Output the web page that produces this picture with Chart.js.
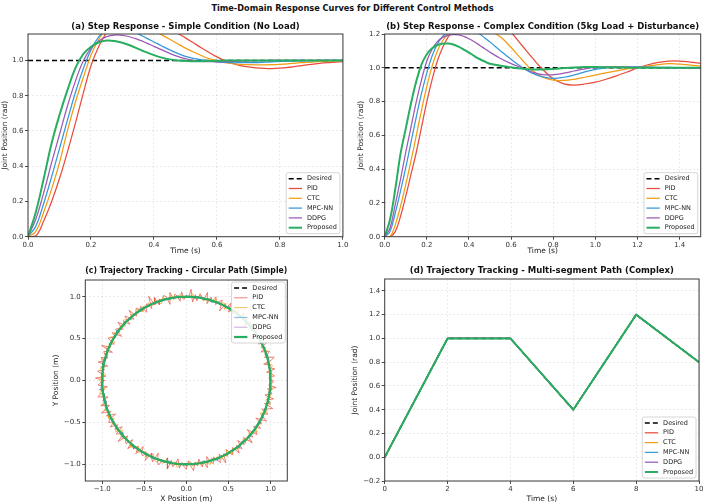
<!DOCTYPE html>
<html><head><meta charset="utf-8">
<script src="https://cdn.jsdelivr.net/npm/chart.js@4.4.0/dist/chart.umd.min.js"></script>
<style>
html,body{margin:0;padding:0;background:#fff;}
#wrap{position:relative;width:705px;height:504px;overflow:hidden;background:#fff;}
#mainTitle{position:absolute;left:0;top:1px;width:705px;text-align:center;font:bold 8.2px "DejaVu Sans";color:#111;line-height:14px;}
.cv{position:absolute;}
canvas{display:block;}
</style></head><body>
<div id="wrap">
<div id="mainTitle">Time-Domain Response Curves for Different Control Methods</div>
<div class="cv" style="left:0;top:18px;"><canvas id="cA" width="350" height="240"></canvas></div>
<div class="cv" style="left:350px;top:18px;"><canvas id="cB" width="355" height="240"></canvas></div>
<div class="cv" style="left:0;top:258px;"><canvas id="cC" width="350" height="246"></canvas></div>
<div class="cv" style="left:350px;top:258px;"><canvas id="cD" width="355" height="246"></canvas></div>
</div>
<script>
// ---------------- DATA ----------------
const methodLabels = ['Desired', 'PID', 'CTC', 'MPC-NN', 'DDPG', 'Proposed'];

// (a) step response, simple condition
const timeA = [0,0.025,0.05,0.075,0.1,0.125,0.15,0.175,0.2,0.225,0.25,0.275,0.3,0.325,0.35,0.375,0.4,0.425,0.45,0.475,0.5,0.525,0.55,0.575,0.6,0.625,0.65,0.675,0.7,0.725,0.75,0.775,0.8,0.825,0.85,0.875,0.9,0.925,0.95,0.975,1.0];
const desiredTimeA = [0, 1.0];
const desiredA = [1.0, 1.0];
const pidA = [0,0.005,0.09,0.2,0.33,0.48,0.64,0.81,0.97,1.08,1.16,1.22,1.255,1.27,1.27,1.255,1.235,1.21,1.183,1.155,1.128,1.1,1.072,1.045,1.02,0.999,0.983,0.971,0.963,0.958,0.955,0.954,0.956,0.96,0.966,0.972,0.978,0.983,0.987,0.99,0.993];
const ctcA = [0,0.03,0.14,0.27,0.42,0.6,0.76,0.9,1.03,1.12,1.18,1.215,1.23,1.23,1.215,1.195,1.17,1.145,1.12,1.095,1.07,1.048,1.028,1.01,0.997,0.988,0.982,0.978,0.976,0.975,0.975,0.976,0.978,0.981,0.985,0.988,0.991,0.994,0.996,0.998,0.999];
const mpcA = [0,0.06,0.19,0.34,0.5,0.66,0.815,0.95,1.06,1.135,1.175,1.19,1.185,1.17,1.15,1.128,1.105,1.082,1.06,1.04,1.023,1.012,1.004,0.997,0.992,0.989,0.987,0.987,0.987,0.988,0.99,0.992,0.994,0.996,0.997,0.998,0.999,1.0,1.0,1.0,1.0];
const ddpgA = [0,0.1,0.25,0.42,0.58,0.74,0.88,0.995,1.07,1.11,1.135,1.144,1.142,1.133,1.118,1.1,1.08,1.06,1.04,1.023,1.01,1.0,0.995,0.993,0.992,0.993,0.994,0.996,0.997,0.998,0.999,1.0,1.0,1.0,1.0,1.0,1.0,1.0,1.0,1.0,1.0];
const proposedA = [0,0.14,0.33,0.53,0.69,0.83,0.955,1.035,1.078,1.103,1.113,1.11,1.1,1.085,1.066,1.047,1.03,1.016,1.006,1.0,0.997,0.996,0.996,0.997,0.998,0.999,1.0,1.0,1.0,1.0,1.0,1.0,1.0,1.0,1.0,1.0,1.0,1.0,1.0,1.0,1.0];
const xTicksA = [0.0, 0.2, 0.4, 0.6, 0.8, 1.0];
const yTicksA = [0.0, 0.2, 0.4, 0.6, 0.8, 1.0];

// (b) step response, complex condition
const timeB = [0,0.025,0.05,0.075,0.1,0.125,0.15,0.175,0.2,0.225,0.25,0.275,0.3,0.325,0.35,0.375,0.4,0.425,0.45,0.475,0.5,0.55,0.6,0.65,0.7,0.75,0.8,0.85,0.9,0.95,1.0,1.05,1.1,1.15,1.2,1.25,1.3,1.35,1.4,1.45,1.5];
const desiredTimeB = [0, 1.5];
const desiredB = [1.0, 1.0];
const pidB = [0,0,0.03,0.12,0.24,0.37,0.5,0.65,0.8,0.93,1.04,1.12,1.18,1.22,1.25,1.27,1.285,1.295,1.298,1.295,1.285,1.255,1.208,1.135,1.06,0.99,0.935,0.905,0.898,0.904,0.915,0.932,0.952,0.975,0.999,1.018,1.032,1.04,1.04,1.034,1.026];
const ctcB = [0,0,0.07,0.18,0.31,0.45,0.6,0.75,0.89,1.01,1.1,1.16,1.2,1.225,1.24,1.25,1.253,1.25,1.243,1.232,1.218,1.182,1.12,1.05,0.985,0.945,0.927,0.925,0.932,0.944,0.957,0.97,0.982,0.993,1.002,1.011,1.019,1.024,1.022,1.016,1.01];
const mpcB = [0,0.03,0.14,0.27,0.41,0.56,0.71,0.85,0.97,1.07,1.14,1.185,1.212,1.227,1.232,1.23,1.224,1.213,1.2,1.177,1.152,1.1,1.05,1.005,0.968,0.946,0.938,0.944,0.958,0.976,0.991,1.0,1.004,1.005,1.005,1.004,1.003,1.002,1.001,1.0,1.0];
const ddpgB = [0,0.05,0.19,0.34,0.5,0.65,0.8,0.93,1.04,1.11,1.155,1.18,1.192,1.196,1.195,1.186,1.172,1.154,1.134,1.113,1.092,1.055,1.025,1.0,0.975,0.959,0.959,0.968,0.981,0.994,1.002,1.005,1.005,1.004,1.003,1.002,1.001,1.0,1.0,1.0,1.0];
const proposedB = [0,0.1,0.28,0.49,0.64,0.79,0.92,1.02,1.08,1.115,1.135,1.143,1.144,1.138,1.125,1.108,1.09,1.07,1.052,1.037,1.024,1.012,1.003,0.995,0.99,0.99,0.993,0.998,1.002,1.004,1.004,1.003,1.002,1.001,1.0,1.0,1.0,1.0,1.0,1.0,1.0];
const xTicksB = [0.0, 0.2, 0.4, 0.6, 0.8, 1.0, 1.2, 1.4];
const yTicksB = [0.0, 0.2, 0.4, 0.6, 0.8, 1.0, 1.2];

// (c) circular path: radius 1 m; radial deviation (m) of each method at evenly spaced angles
const desiredRadius = 1.0;
const pidDr = [
 0.03,-0.02,0.05,0.01,-0.04,0.06,-0.01,0.02,-0.06,0.04,0.08,-0.03,0.01,0.05,-0.05,0.02,-0.02,0.07,-0.04,0.03,
 -0.01,0.04,-0.07,0.02,0.06,-0.03,0.09,-0.02,0.03,-0.05,0.01,0.04,-0.01,0.06,-0.06,0.02,0.05,-0.03,0.01,-0.04,
 0.07,-0.02,0.03,-0.08,0.05,0.02,-0.03,0.06,-0.01,0.04,-0.05,0.08,-0.02,0.01,0.05,-0.04,0.03,-0.06,0.09,-0.01,
 0.02,-0.03,0.06,-0.05,0.01,0.04,-0.02,0.07,-0.07,0.03,0.05,-0.01,0.02,-0.04,0.06,-0.02,0.10,-0.05,0.03,0.01,
 -0.06,0.04,-0.02,0.05,0.02,-0.03,0.08,-0.04,0.01,0.06,-0.05,0.03,-0.01,0.07,-0.03,0.02,0.04,-0.07,0.05,-0.02,
 0.03,0.06,-0.04,0.01,-0.02,0.09,-0.06,0.04,0.02,-0.03,0.05,-0.01,0.07,-0.05,0.03,-0.02,0.06,0.01,-0.04,0.08,
 -0.03,0.02,0.05,-0.06,0.04,-0.01,0.03,0.07,-0.05,0.02,-0.02,0.06,-0.04,0.01,0.08,-0.03,0.04,-0.07,0.02,0.05,
 -0.01,0.06,-0.03,0.03,-0.06,0.05,0.01,-0.02,0.09,-0.04,0.02,0.04,-0.05,0.07,-0.01,0.03,-0.03,0.06,-0.06,0.02,
 0.04,-0.02,0.07,-0.04,0.01,0.05,-0.07,0.03,0.06,-0.01,0.02,-0.05,0.08,-0.03,0.04,0.01,-0.06,0.05,-0.02,0.03,
 0.06,-0.04,0.02,0.08,-0.02,0.03,-0.05,0.05,-0.01,0.07,-0.06,0.02,0.04,-0.03,0.01,0.06,-0.04,0.09,-0.02,0.03,
 -0.05,0.04,0.01,-0.03,0.07,-0.02,0.05,-0.06,0.03,0.02,-0.04,0.08,-0.01,0.04,-0.07,0.06,0.02,-0.03,0.05,-0.01,
 0.03,-0.06,0.07,0.01,-0.02,0.05,-0.04,0.02,0.08,-0.03,0.04,-0.01,0.06,-0.05,0.03,0.01,-0.03,0.07,-0.02,0.02];
const ctcDr = [
 0.02,-0.01,0.03,-0.02,0.01,0.04,-0.03,0.01,0.02,-0.02,0.03,0.0,-0.03,0.02,0.04,-0.01,0.01,-0.04,0.03,0.01,
 -0.02,0.03,-0.01,0.02,0.04,-0.03,0.01,0.0,0.03,-0.02,0.02,-0.04,0.03,0.01,-0.01,0.04,-0.02,0.02,0.0,-0.03,
 0.03,0.01,-0.02,0.04,-0.01,0.02,-0.03,0.03,0.01,-0.02,0.04,-0.01,0.0,0.03,-0.04,0.02,0.01,-0.02,0.03,-0.01,
 0.02,-0.03,0.04,0.0,-0.01,0.03,-0.02,0.01,0.04,-0.03,0.02,0.01,-0.02,0.03,-0.01,0.04,-0.04,0.02,0.0,0.03,
 -0.01,0.02,-0.03,0.04,0.01,-0.02,0.03,0.0,-0.04,0.02,0.03,-0.01,0.01,-0.03,0.04,0.02,-0.02,0.01,0.03,-0.01,
 0.04,-0.02,0.01,0.03,-0.03,0.02,0.0,-0.01,0.04,-0.04,0.02,0.03,-0.02,0.01,-0.01,0.03,0.02,-0.03,0.04,0.0,
 -0.02,0.03,0.01,-0.04,0.02,0.04,-0.01,0.03,-0.03,0.01,0.02,-0.02,0.04,0.0,-0.01,0.03,-0.04,0.02,0.01,-0.02,
 0.03,-0.01,0.02,0.04,-0.03,0.01,-0.02,0.03,0.0,0.02,-0.04,0.04,-0.01,0.01,0.03,-0.02,0.02,-0.03,0.04,0.01,
 -0.03,0.02,0.04,-0.01,0.0,0.03,-0.02,0.01,-0.04,0.03,0.02,-0.01,0.04,-0.03,0.01,0.02,-0.02,0.03,0.0,-0.01];
const mpcDr = [
 0.01,-0.01,0.02,0.0,-0.02,0.01,0.015,-0.01,0.005,-0.015,0.02,-0.005,0.01,-0.02,0.0,0.015,-0.01,0.01,0.005,-0.015,
 0.02,-0.01,0.0,0.015,-0.02,0.01,-0.005,0.02,-0.015,0.005,0.01,-0.01,0.02,0.0,-0.015,0.01,0.005,-0.02,0.015,-0.005,
 0.0,0.02,-0.01,0.01,-0.02,0.015,0.005,-0.01,0.02,-0.015,0.0,0.01,-0.005,0.015,-0.02,0.01,0.02,-0.01,0.0,0.005,
 -0.015,0.01,0.02,-0.005,0.0,-0.02,0.015,0.01,-0.01,0.02,-0.015,0.005,0.01,-0.02,0.015,0.0,-0.005,0.02,-0.01,0.01,
 0.005,-0.015,0.02,0.0,-0.01,0.015,-0.02,0.01,0.005,-0.005,0.02,-0.015,0.01,0.0,-0.02,0.015,-0.01,0.02,0.005,-0.01,
 0.015,-0.005,0.0,0.02,-0.02,0.01,-0.01,0.015,0.005,-0.015,0.02,0.0,-0.01,0.01,-0.005,0.02,-0.02,0.005,0.015,-0.01];
const ddpgDr = [
 -0.01,0.005,0.01,-0.005,0.0,0.012,-0.012,0.005,0.008,-0.008,0.0,0.01,-0.005,0.012,-0.01,0.003,0.007,-0.012,0.01,-0.003,
 0.005,-0.01,0.012,0.0,-0.007,0.01,-0.005,0.003,0.012,-0.012,0.008,-0.002,0.005,-0.01,0.01,0.0,-0.008,0.012,-0.005,0.003,
 0.01,-0.012,0.005,0.008,-0.003,0.0,0.012,-0.01,0.002,0.007,-0.008,0.01,-0.005,0.0,0.012,-0.012,0.005,0.003,-0.007,0.01,
 -0.005,0.012,-0.01,0.003,0.008,-0.012,0.005,0.0,0.01,-0.007,0.012,-0.003,0.005,-0.01,0.008,0.002,-0.012,0.01,-0.005,0.007,
 0.0,-0.008,0.012,-0.005,0.01,0.003,-0.012,0.007,-0.002,0.01,-0.01,0.005,0.012,-0.008,0.0,0.006,-0.01,0.012,-0.004,0.002,
 0.008,-0.012,0.005,0.01,-0.006,0.0,0.012,-0.01,0.004,0.007,-0.012,0.01,-0.003,0.005,-0.008,0.012,0.0,-0.01,0.006,-0.002];
const circleTicks = [-1.0, -0.5, 0.0, 0.5, 1.0];

// (d) multi-segment path
const timeD = [0, 2, 4, 6, 8, 10];
const desiredD = [0.0, 1.0, 1.0, 0.4, 1.2, 0.8];
const pidD = [0.0, 1.0, 1.0, 0.4, 1.2, 0.8];
const ctcD = [0.0, 1.0, 1.0, 0.4, 1.2, 0.8];
const mpcD = [0.0, 1.0, 1.0, 0.4, 1.2, 0.8];
const ddpgD = [0.0, 1.0, 1.0, 0.4, 1.2, 0.8];
const proposedD = [0.0, 1.0, 1.0, 0.4, 1.2, 0.8];
const xTicksD = [0, 2, 4, 6, 8, 10];
const yTicksD = [-0.2, 0.0, 0.2, 0.4, 0.6, 0.8, 1.0, 1.2, 1.4];

// ---------------- STYLE ----------------
const FONT = 'DejaVu Sans';
const COL = { Desired:'#000000', PID:'#e74c3c', CTC:'#f39c12', 'MPC-NN':'#3498db', DDPG:'#9b59b6', Proposed:'#27ae60' };

function pts(xs, ys){ return xs.map((x,i)=>({x:x, y:ys[i]})); }
function ring(base, drs, n){
  const out = [];
  const m = drs ? drs.length : n;
  for (let i = 0; i <= m; i++){
    const k = i % m;
    const a = 2*Math.PI*k/m;
    const r = base + (drs ? drs[k] : 0);
    out.push({x: r*Math.cos(a), y: r*Math.sin(a)});
  }
  return out;
}
function fmt1(v){ return v.toFixed(1).replace('-', '\u2212'); }
function fmt0(v){ return String(Math.round(v)).replace('-', '\u2212'); }

function stepDatasets(series, smooth){
  return series.map((s, i) => {
    const lab = methodLabels[i];
    const isDes = lab === 'Desired', isProp = lab === 'Proposed';
    return {
      label: lab, data: s, borderColor: COL[lab],
      borderWidth: isDes ? 1.6 : (isProp ? 2.0 : 1.25),
      borderDash: isDes ? [5,3] : [],
      pointRadius: 0, fill: false,
      tension: (smooth && !isDes) ? 0.4 : 0,
      order: 5 - i
    };
  });
}

function scale(o){
  return {
    type: 'linear', min: o.min, max: o.max,
    afterBuildTicks: s => { s.ticks = o.ticks.map(v => ({value: v})); },
    afterFit: s => { if (s.isHorizontal()) s.height = o.size; else s.width = o.size; },
    grid: { color: 'rgba(0,0,0,0.10)', lineWidth: 0.8, drawTicks: true, tickLength: 3, tickColor: '#333', tickWidth: 0.9 },
    border: { display: false, dash: [2,2] },
    ticks: { font: {family: FONT, size: 7, lineHeight: 1}, color: '#333', padding: 1.5, maxRotation: 0, autoSkip: false, callback: o.fmt },
    title: { display: true, text: o.title, font: {family: FONT, size: 7.5, lineHeight: 1.2}, color: '#222', padding: o.titlePad }
  };
}

const framePlugin = {
  id: 'mplFrame',
  afterDatasetsDraw(chart, args, opts){
    const ctx = chart.ctx, a = chart.chartArea;
    ctx.save();
    ctx.strokeStyle = '#3a3a3a'; ctx.lineWidth = 1;
    ctx.strokeRect(a.left, a.top, a.right - a.left, a.bottom - a.top);
    if (opts && opts.corner){
      ctx.font = '6.5px "' + FONT + '"';
      const ds = chart.data.datasets;
      const tw = Math.max(...ds.map(d => ctx.measureText(d.label).width));
      const hx = 2.5, hl = 13.3, gap = 5, pr = 3, rowH = 9.8;
      const w = hx + hl + gap + tw + pr;
      const h = 12 + (ds.length - 1) * rowH;
      const x0 = a.right - opts.inset - w;
      const y0 = opts.corner === 'lr' ? a.bottom - opts.inset - h : a.top + opts.inset;
      ctx.beginPath();
      if (ctx.roundRect) ctx.roundRect(x0, y0, w, h, 2); else ctx.rect(x0, y0, w, h);
      ctx.fillStyle = 'rgba(255,255,255,0.85)'; ctx.fill();
      ctx.strokeStyle = '#cccccc'; ctx.lineWidth = 0.8; ctx.stroke();
      ds.forEach((d, i) => {
        const cy = y0 + 6 + i * rowH;
        ctx.beginPath();
        ctx.setLineDash(d.borderDash || []);
        ctx.strokeStyle = d.borderColor; ctx.lineWidth = d.borderWidth;
        ctx.moveTo(x0 + hx, cy); ctx.lineTo(x0 + hx + hl, cy); ctx.stroke();
        ctx.setLineDash([]);
        ctx.fillStyle = '#222'; ctx.textBaseline = 'middle'; ctx.textAlign = 'left';
        ctx.fillText(d.label, x0 + hx + hl + gap, cy);
      });
    }
    ctx.restore();
  }
};

function baseOptions(o){
  return {
    responsive: false, animation: false, devicePixelRatio: 1,
    layout: { padding: o.pad },
    plugins: {
      legend: { display: false }, tooltip: { enabled: false },
      title: { display: true, fullSize: false, text: o.title, color: '#111', font: {family: FONT, size: 8.5, weight: 'bold', lineHeight: 1.2}, padding: o.titlePad },
      mplFrame: o.legend
    },
    scales: { x: o.x, y: o.y }
  };
}

// (a)
new Chart(document.getElementById('cA'), {
  type: 'line',
  data: { datasets: stepDatasets([pts(desiredTimeA, desiredA), pts(timeA, pidA), pts(timeA, ctcA), pts(timeA, mpcA), pts(timeA, ddpgA), pts(timeA, proposedA)], true) },
  options: baseOptions({
    pad: {left: 0, right: 6, top: 0, bottom: 0},
    title: '(a) Step Response - Simple Condition (No Load)', titlePad: {top: 3.6, bottom: 2.2},
    legend: {corner: 'lr', inset: 3},
    x: scale({min: 0, max: 1.0, ticks: xTicksA, fmt: fmt1, title: 'Time (s)', size: 21.3, titlePad: {top: 0, bottom: 2.5}}),
    y: scale({min: 0, max: 1.15, ticks: yTicksA, fmt: fmt1, title: 'Joint Position (rad)', size: 28, titlePad: {top: 0.5, bottom: 0}})
  }),
  plugins: [framePlugin]
});

// (b)
new Chart(document.getElementById('cB'), {
  type: 'line',
  data: { datasets: stepDatasets([pts(desiredTimeB, desiredB), pts(timeB, pidB), pts(timeB, ctcB), pts(timeB, mpcB), pts(timeB, ddpgB), pts(timeB, proposedB)], true) },
  options: baseOptions({
    pad: {left: 0, right: 4.3, top: 0, bottom: 0},
    title: '(b) Step Response - Complex Condition (5kg Load + Disturbance)', titlePad: {top: 3.6, bottom: 2.2},
    legend: {corner: 'lr', inset: 3},
    x: scale({min: 0, max: 1.5, ticks: xTicksB, fmt: fmt1, title: 'Time (s)', size: 21.3, titlePad: {top: 0, bottom: 2.5}}),
    y: scale({min: 0, max: 1.2, ticks: yTicksB, fmt: fmt1, title: 'Joint Position (rad)', size: 34.7, titlePad: {top: 6.5, bottom: 0}})
  }),
  plugins: [framePlugin]
});

// (c)
const circleSets = [
  {label: 'Desired', data: ring(desiredRadius, null, 120), borderColor: '#000000', borderWidth: 1.5, borderDash: [5,3]},
  {label: 'PID', data: ring(desiredRadius, pidDr), borderColor: 'rgba(231,76,60,0.78)', borderWidth: 0.9},
  {label: 'CTC', data: ring(desiredRadius, ctcDr), borderColor: 'rgba(243,156,18,0.75)', borderWidth: 0.9},
  {label: 'MPC-NN', data: ring(desiredRadius, mpcDr), borderColor: 'rgba(52,152,219,0.7)', borderWidth: 0.9},
  {label: 'DDPG', data: ring(desiredRadius, ddpgDr), borderColor: 'rgba(155,89,182,0.65)', borderWidth: 0.8},
  {label: 'Proposed', data: ring(desiredRadius, null, 120), borderColor: '#27ae60', borderWidth: 2.2}
].map((d, i) => Object.assign(d, {showLine: true, pointRadius: 0, fill: false, tension: 0, order: 5 - i}));

new Chart(document.getElementById('cC'), {
  type: 'scatter',
  data: { datasets: circleSets },
  options: baseOptions({
    pad: {left: 50.3, right: 62.7, top: 0, bottom: 0},
    title: '(c) Trajectory Tracking - Circular Path (Simple)', titlePad: {top: 7.9, bottom: 3.9},
    legend: {corner: 'ur', inset: 2},
    x: scale({min: -1.2, max: 1.2, ticks: circleTicks, fmt: fmt1, title: 'X Position (m)', size: 23, titlePad: {top: 0, bottom: 0.2}}),
    y: scale({min: -1.2, max: 1.2, ticks: circleTicks, fmt: fmt1, title: 'Y Position (m)', size: 35, titlePad: {top: 0.9, bottom: 0}})
  }),
  plugins: [framePlugin]
});

// (d)
new Chart(document.getElementById('cD'), {
  type: 'line',
  data: { datasets: stepDatasets([pts(timeD, desiredD), pts(timeD, pidD), pts(timeD, ctcD), pts(timeD, mpcD), pts(timeD, ddpgD), pts(timeD, proposedD)], false) },
  options: baseOptions({
    pad: {left: 0, right: 4.3, top: 0, bottom: 0},
    title: '(d) Trajectory Tracking - Multi-segment Path (Complex)', titlePad: {top: 7.9, bottom: 2.9},
    legend: {corner: 'lr', inset: 3},
    x: scale({min: 0, max: 10, ticks: xTicksD, fmt: fmt0, title: 'Time (s)', size: 23, titlePad: {top: 0, bottom: 0.2}}),
    y: scale({min: -0.2, max: 1.5, ticks: yTicksD, fmt: fmt1, title: 'Joint Position (rad)', size: 34.7, titlePad: {top: 0.5, bottom: 0}})
  }),
  plugins: [framePlugin]
});
</script>
</body></html>
